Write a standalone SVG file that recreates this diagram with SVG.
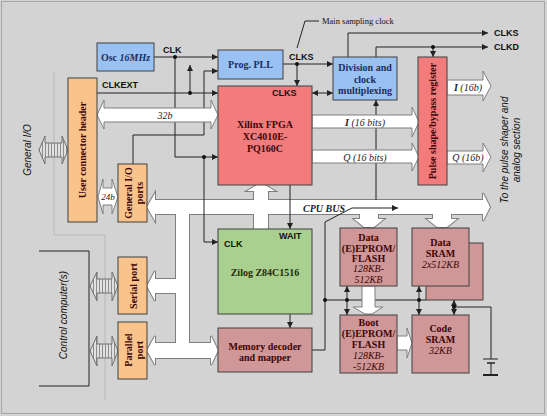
<svg xmlns="http://www.w3.org/2000/svg" xmlns:xlink="http://www.w3.org/1999/xlink" width="547" height="416" viewBox="0 0 547 416">
<style>
.box{stroke:#404040;stroke-width:1}
.blue{fill:#99c2f2}
.red{fill:#f27c7c}
.mem{fill:#cf9797}
.grn{fill:#a9d08e}
.org{fill:#f9c48c}
.bt{font-family:"Liberation Serif",serif;font-weight:bold;font-size:10px;text-anchor:middle;dominant-baseline:central}
.navy{fill:#1c2d5e}
.dk{fill:#3d0606}
.it{font-style:italic;font-weight:normal}
.lbl{font-family:"Liberation Sans",sans-serif;font-weight:bold;font-size:9px;fill:#111;dominant-baseline:central}
.side{font-family:"Liberation Sans",sans-serif;font-style:italic;font-size:10px;fill:#111;text-anchor:middle;dominant-baseline:central}
.sm{font-family:"Liberation Serif",serif;font-size:8.5px;fill:#111;dominant-baseline:central}
.ai{font-family:"Liberation Serif",serif;font-style:italic;font-size:10px;fill:#222;text-anchor:middle;dominant-baseline:central}
.w{fill:#fff;stroke:#7f7f7f;stroke-width:1}
.hat{fill:url(#hatch);stroke:#707070;stroke-width:1}
.ln{fill:none;stroke:#222;stroke-width:1}
.la{fill:none;stroke:#222;stroke-width:1;marker-end:url(#ah)}
.lb{fill:none;stroke:#222;stroke-width:1;marker-end:url(#ah);marker-start:url(#ah)}
.dot{fill:#111}
.busO{fill:#fff;stroke:#7f7f7f;stroke-width:2}
.busF{fill:#fff;stroke:none}
</style>
<defs>
<marker id="ah" viewBox="0 0 6 6" refX="6" refY="3" markerWidth="6" markerHeight="6" markerUnits="userSpaceOnUse" orient="auto-start-reverse">
<path d="M0,0 L6,3 L0,6 z" fill="#222"/>
</marker>
<pattern id="hatch" width="3" height="4" patternUnits="userSpaceOnUse">
<rect width="3" height="4" fill="#e0e0e0"/>
<rect width="1" height="4" fill="#8c8c8c"/>
</pattern>
<g id="busShapes">
<polygon points="147,207 155,193 155,200 483,200 483,193 490,207 483,221 483,214 155,214 155,221"/>
<polygon points="254,229 254,191 247,191 257,185 265,185 275,191 268,191 268,229"/>
<rect x="176" y="207" width="13" height="151"/>
<polygon points="147,286 155,271 155,279 180,279 180,293 155,293 155,301"/>
<polygon points="147,350.5 155,336 155,343 211,343 211,336 218,350.5 211,365 211,358 155,358 155,365"/>
<polygon points="360,207 378,207 378,219 384,219 374,227 364,227 354,219 360,219"/>
<polygon points="433,207 451,207 451,219 457,219 447,227 437,227 427,219 433,219"/>
</g>
</defs>

<rect x="0" y="0" width="547" height="416" fill="#d3d3d3"/>
<rect x="1.5" y="1.5" width="543" height="412" fill="none" stroke="#a6a6a6" stroke-width="1"/>

<g id="regions">
<path d="M54,72 V235 H105 V400" fill="none" stroke="#b8b8b8" stroke-width="1"/>
<path d="M39,251 H89 V386 H39" fill="none" stroke="#222" stroke-width="1"/>
<text class="side" transform="rotate(-90 27 150)" x="27" y="150">General I/O</text>
<text class="side" transform="rotate(-90 63 315)" x="63" y="315">Control computer(s)</text>
<text class="side" transform="rotate(-90 504 150)" x="504" y="150">To the pulse shaper and</text>
<text class="side" transform="rotate(-90 516 150)" x="516" y="150">analog section</text>
</g>

<g id="cpu-bus">
<use xlink:href="#busShapes" href="#busShapes" class="busO"/>
<use xlink:href="#busShapes" href="#busShapes" class="busF"/>
<text class="ai" style="text-anchor:start;font-weight:bold" x="303" y="208">CPU BUS</text>
</g>

<g id="connectors">
<!-- CLK -->
<path class="la" d="M154,57 H218"/>
<path class="la" d="M175,57 V157 H218"/>
<path class="la" d="M204,157 V242 H218"/>
<!-- CLKEXT -->
<path class="la" d="M97,93 H218"/>
<path class="la" d="M190,93 V65"/>
<!-- General I/O ports to PLL -->
<path class="la" d="M133,164 V135 H204 V71 H218"/>
<!-- CLKS -->
<path class="la" d="M283,64 H333"/>
<path class="la" d="M297,64 V86"/>
<path class="lb" d="M312,93 H333"/>
<path class="ln" d="M305,21 H319 M305,21 L297,48"/>
<!-- outputs -->
<path class="la" d="M348,57 V33 H488"/>
<path class="la" d="M376,57 V47 H488"/>
<path class="la" d="M433,47 V57"/>
<path class="la" d="M376,200 V100"/>
<!-- WAIT, decoder -->
<path class="la" d="M290,185 V229"/>
<path class="la" d="M290,314 V328"/>
<!-- memory decoder control line -->
<path class="ln" d="M312,350 H325 V222 L352,208"/>
<path class="la" d="M352,208 H398"/>
<path class="ln" d="M325,300 H426"/>
<path class="lb" d="M347,286 V315"/>
<path class="lb" d="M419,286 V315"/>
<path class="lb" d="M454,300 V315"/>
<path class="ln" d="M454,307 H491 V359"/>
<path class="ln" d="M483,359 H498"/>
<path d="M487,363 H495" stroke="#222" stroke-width="1.5"/>
<path class="ln" d="M491,363 V375"/>
<path d="M483,375 H498" stroke="#222" stroke-width="2"/>
<circle class="dot" cx="175" cy="57" r="2"/>
<circle class="dot" cx="204" cy="157" r="2"/>
<circle class="dot" cx="190" cy="93" r="2"/>
<circle class="dot" cx="297" cy="64" r="2"/>
<circle class="dot" cx="433" cy="47" r="2"/>
<circle class="dot" cx="325" cy="300" r="2"/>
<circle class="dot" cx="347" cy="300" r="2"/>
<circle class="dot" cx="419" cy="300" r="2"/>
<circle class="dot" cx="454" cy="307" r="2"/>
<text class="lbl" x="163" y="50">CLK</text>
<text class="lbl" x="102" y="85">CLKEXT</text>
<text class="lbl" x="289" y="57">CLKS</text>
<text class="lbl" x="494" y="33">CLKS</text>
<text class="lbl" x="494" y="47">CLKD</text>
<text class="sm" x="322" y="21">Main sampling clock</text>
</g>

<g id="data-arrows">
<polygon class="w" points="97,115 104,100 104,108 211,108 211,100 218,115 211,129 211,122 104,122 104,129"/>
<text class="ai" x="165" y="115">32b</text>
<polygon class="w" points="98,197 103,179 103,188 112,188 112,179 118,197 112,214 112,205 103,205 103,214"/>
<text class="ai" x="108" y="197" style="font-size:9px">24b</text>
<polygon class="w" points="312,115 412,115 412,107 419,122 412,137 412,128 312,128"/>
<text class="ai" x="365" y="122"><tspan font-weight="bold">I</tspan>  (16 bits)</text>
<polygon class="w" points="312,150 412,150 412,143 419,157 412,171 412,163 312,163"/>
<text class="ai" x="365" y="157">Q (16 bits)</text>
<polygon class="w" points="447,80 483,80 483,71 491,86 483,101 483,95 447,95"/>
<text class="ai" x="468" y="87"><tspan font-weight="bold">I</tspan> (16b)</text>
<polygon class="w" points="447,151 483,151 483,143 491,157 483,172 483,164 447,164"/>
<text class="ai" x="468" y="157">Q (16b)</text>
<polygon class="w" points="362,286 375,286 375,307 383,307 372,314 365,314 353,307 362,307"/>
<polygon class="w" points="397,336 407,336 407,328 412,343 407,358 407,350 397,350"/>
<polygon class="hat" points="39,150 45,136 45,143 62,143 62,136 68,150 62,164 62,157 45,157 45,164"/>
<polygon class="hat" points="90,286 97,272 97,279 112,279 112,272 118,286 112,301 112,293 97,293 97,301"/>
<polygon class="hat" points="90,351 97,336 97,344 112,344 112,336 118,351 112,366 112,358 97,358 97,366"/>
</g>

<g id="osc">
<rect class="box blue" x="97" y="43" width="57" height="28"/>
<text class="bt navy" x="125.5" y="57">Osc <tspan font-style="italic">16MHz</tspan></text>
</g>
<g id="pll">
<rect class="box blue" x="218" y="50" width="65" height="29"/>
<text class="bt navy" x="250.5" y="64">Prog. PLL</text>
</g>
<g id="division">
<rect class="box blue" x="333" y="57" width="64" height="43"/>
<text class="bt navy" x="365" y="67">Division and</text>
<text class="bt navy" x="365" y="79">clock</text>
<text class="bt navy" x="365" y="90">multiplexing</text>
</g>
<g id="fpga">
<rect class="box red" x="218" y="86" width="94" height="99"/>
<text class="lbl" x="272" y="93">CLKS</text>
<text class="bt dk" x="265" y="124">Xilinx FPGA</text>
<text class="bt dk" x="265" y="136">XC4010E-</text>
<text class="bt dk" x="265" y="148">PQ160C</text>
</g>
<g id="pulse-register">
<rect class="box red" x="418" y="57" width="29" height="128"/>
<text class="bt dk" transform="rotate(-90 432.5 121)" x="432.5" y="121">Pulse shape/bypass register</text>
</g>
<g id="user-header">
<rect class="box org" x="68" y="78" width="29" height="144"/>
<text class="bt dk" transform="rotate(-90 82.5 150)" x="82.5" y="150">User connector header</text>
</g>
<g id="gio-ports">
<rect class="box org" x="118" y="164" width="29" height="58"/>
<text class="bt dk" transform="rotate(-90 128 193)" x="128" y="193">General I/O</text>
<text class="bt dk" transform="rotate(-90 139 193)" x="139" y="193">ports</text>
</g>
<g id="serial-port">
<rect class="box org" x="118" y="257" width="29" height="57"/>
<text class="bt dk" transform="rotate(-90 133 286)" x="133" y="286">Serial port</text>
</g>
<g id="parallel-port">
<rect class="box org" x="118" y="322" width="29" height="57"/>
<text class="bt dk" transform="rotate(-90 128 350)" x="128" y="350">Parallel</text>
<text class="bt dk" transform="rotate(-90 139 350)" x="139" y="350">port</text>
</g>
<g id="zilog">
<rect class="box grn" x="218" y="229" width="94" height="85"/>
<text class="lbl" x="224" y="244">CLK</text>
<text class="lbl" x="279" y="236">WAIT</text>
<text class="bt" fill="#1f2a10" x="265" y="272">Zilog Z84C1516</text>
</g>
<g id="memory-decoder">
<rect class="box mem" x="218" y="328" width="94" height="44"/>
<text class="bt dk" x="265" y="346">Memory decoder</text>
<text class="bt dk" x="265" y="357">and mapper</text>
</g>
<g id="data-eprom">
<rect class="box mem" x="340" y="228" width="57" height="58"/>
<text class="bt dk" x="368.5" y="237">Data</text>
<text class="bt dk" x="368.5" y="248">(E)EPROM/</text>
<text class="bt dk" x="368.5" y="258">FLASH</text>
<text class="bt dk it" x="368.5" y="268">128KB-</text>
<text class="bt dk it" x="368.5" y="279">512KB</text>
</g>
<g id="data-sram">
<rect class="box mem" x="426" y="243" width="57" height="57"/>
<rect class="box mem" x="412" y="228" width="57" height="58"/>
<text class="bt dk" x="440.5" y="242">Data</text>
<text class="bt dk" x="440.5" y="253">SRAM</text>
<text class="bt dk it" x="440.5" y="264">2x512KB</text>
</g>
<g id="boot-eprom">
<rect class="box mem" x="340" y="315" width="57" height="58"/>
<text class="bt dk" x="368.5" y="322">Boot</text>
<text class="bt dk" x="368.5" y="333">(E)EPROM/</text>
<text class="bt dk" x="368.5" y="344">FLASH</text>
<text class="bt dk it" x="368.5" y="355">128KB-</text>
<text class="bt dk it" x="368.5" y="366">-512KB</text>
</g>
<g id="code-sram">
<rect class="box mem" x="412" y="315" width="57" height="58"/>
<text class="bt dk" x="440.5" y="328">Code</text>
<text class="bt dk" x="440.5" y="339">SRAM</text>
<text class="bt dk it" x="440.5" y="350">32KB</text>
</g>
</svg>
